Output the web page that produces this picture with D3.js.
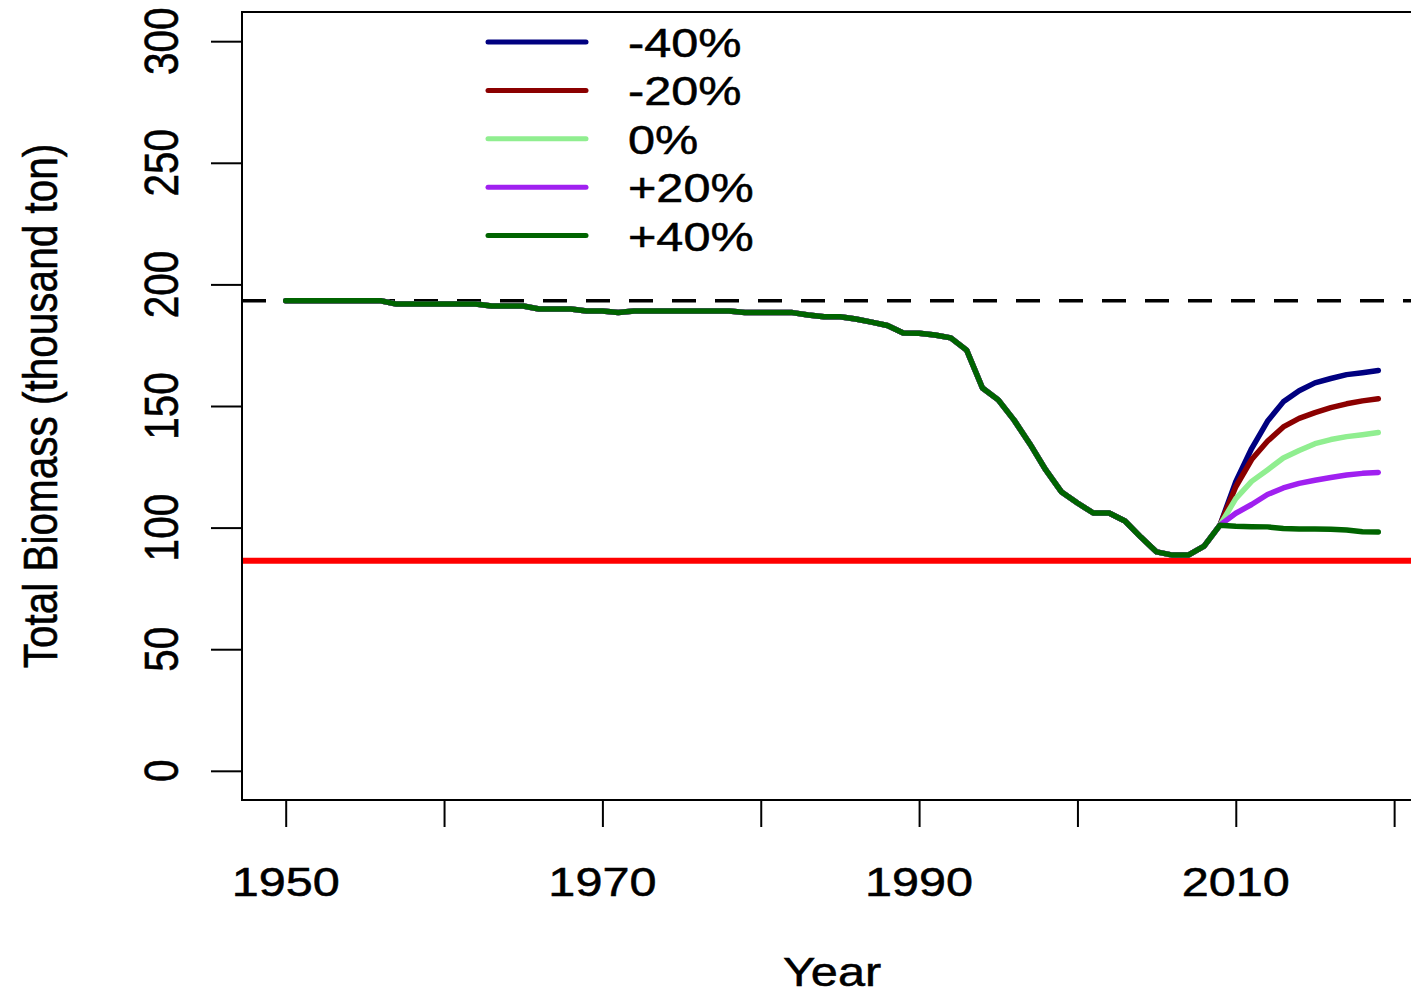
<!DOCTYPE html>
<html>
<head>
<meta charset="utf-8">
<script src="https://cdn.jsdelivr.net/npm/d3@7"></script>
<style>
  html, body { margin: 0; padding: 0; background: #fff; }
  svg { display: block; }
  text { font-family: "Liberation Sans", Arial, sans-serif; fill: #000; stroke: #000; stroke-width: 0.5px; }
</style>
</head>
<body>
<svg id="chart" width="1411" height="996"></svg>
<script>
// Historical total biomass (thousand ton), 1950-2009
const histYears = [1950,1951,1952,1953,1954,1955,1956,1957,1958,1959,
  1960,1961,1962,1963,1964,1965,1966,1967,1968,1969,
  1970,1971,1972,1973,1974,1975,1976,1977,1978,1979,
  1980,1981,1982,1983,1984,1985,1986,1987,1988,1989,
  1990,1991,1992,1993,1994,1995,1996,1997,1998,1999,
  2000,2001,2002,2003,2004,2005,2006,2007,2008,2009];
const histBiomass = [193.3,193.3,193.3,193.3,193.3,193.3,193.3,191.9,191.9,191.9,
  191.9,191.9,191.9,191.1,191.1,191.1,189.9,189.9,189.9,189.1,
  189.1,188.4,189.1,189.1,189.1,189.1,189.1,189.1,189.1,188.4,
  188.4,188.4,188.4,187.4,186.7,186.7,185.8,184.5,183.1,180.0,
  179.9,179.2,178.0,173.0,157.4,152.5,144.2,134.4,123.7,114.6,
  110.1,106.0,106.0,102.7,96.1,90.0,88.7,88.7,92.4,101.0];

// Projection years and scenario trajectories (catch change relative to current)
const projYears = [2009,2010,2011,2012,2013,2014,2015,2016,2017,2018,2019];
const scenarioLabels = ["-40%", "-20%", "0%", "+20%", "+40%"];
const scenarioColors = ["#000080", "#8B0000", "#90EE90", "#A020F0", "#006400"];
const projMinus40 = [101.0,118.9,132.5,143.7,151.7,156.3,159.5,161.3,162.9,163.7,164.6];
const projMinus20 = [101.0,116.8,128.0,135.5,141.4,144.9,147.3,149.3,150.9,152.1,153.0];
const projZero    = [101.0,111.9,119.0,123.7,128.6,131.7,134.5,136.2,137.4,138.2,139.1];
const projPlus20  = [101.0,105.9,109.5,113.6,116.3,118.2,119.5,120.6,121.6,122.3,122.7];
const projPlus40  = [101.0,100.6,100.4,100.3,99.6,99.4,99.4,99.3,99.0,98.3,98.2];
const projections = [projMinus40, projMinus20, projZero, projPlus20, projPlus40];

// Reference points
const unfishedBiomass = 193.3;
const limitBiomass = 86.4;

// Axis ticks
const yTicks = [0, 50, 100, 150, 200, 250, 300];
const xTicks = [1950, 1960, 1970, 1980, 1990, 2000, 2010, 2020];
const xTickLabels = [1950, 1970, 1990, 2010];

const svg = d3.select("#chart");
const plot = { left: 242, right: 1422, top: 12, bottom: 800 };
const fontSize = 40.5;
const stretch = 1.2;

// 4% padding on both sides of the data range
const xData = [1950, 2019];
const xPad = (xData[1] - xData[0]) * 0.04;
const x = d3.scaleLinear().domain([xData[0] - xPad, xData[1] + xPad]).range([plot.left, plot.right]);
const yPad = 300 * 0.04;
const y = d3.scaleLinear().domain([0 - yPad, 300 + yPad]).range([plot.bottom, plot.top]);

const line = d3.line().x(d => x(d[0])).y(d => y(d[1]));

// Reference lines
svg.append("line")
  .attr("x1", plot.left).attr("x2", plot.right)
  .attr("y1", y(unfishedBiomass)).attr("y2", y(unfishedBiomass))
  .attr("stroke", "#000").attr("stroke-width", 3.5)
  .attr("stroke-dasharray", "24,19");

svg.append("line")
  .attr("x1", plot.left).attr("x2", plot.right)
  .attr("y1", y(limitBiomass)).attr("y2", y(limitBiomass))
  .attr("stroke", "#FF0000").attr("stroke-width", 6);

// Scenario lines: historical series followed by each projection
const histPoints = histYears.map((yr, i) => [yr, histBiomass[i]]);
projections.forEach((proj, k) => {
  const pts = histPoints.concat(projYears.slice(1).map((yr, i) => [yr, proj[i + 1]]));
  svg.append("path")
    .attr("d", line(pts))
    .attr("fill", "none")
    .attr("stroke", scenarioColors[k])
    .attr("stroke-width", 5.5)
    .attr("stroke-linecap", "round")
    .attr("stroke-linejoin", "round");
});

// Plot frame
svg.append("rect")
  .attr("x", plot.left).attr("y", plot.top)
  .attr("width", plot.right - plot.left).attr("height", plot.bottom - plot.top)
  .attr("fill", "none").attr("stroke", "#000").attr("stroke-width", 2);

// Y axis
const yAxis = d3.axisLeft(y).tickValues(yTicks).tickSize(31).tickFormat("");
const gy = svg.append("g").attr("transform", `translate(${plot.left},0)`).call(yAxis);
gy.select(".domain").remove();
gy.selectAll(".tick line").attr("stroke", "#000").attr("stroke-width", 2);
yTicks.forEach(v => {
  svg.append("text")
    .attr("transform", `translate(178,${y(v)}) scale(${stretch},1) rotate(-90)`)
    .attr("text-anchor", "middle")
    .attr("font-size", fontSize)
    .text(v);
});

// X axis
const xAxis = d3.axisBottom(x).tickValues(xTicks).tickSize(27).tickFormat("");
const gx = svg.append("g").attr("transform", `translate(0,${plot.bottom})`).call(xAxis);
gx.select(".domain").remove();
gx.selectAll(".tick line").attr("stroke", "#000").attr("stroke-width", 2);
xTickLabels.forEach(v => {
  svg.append("text")
    .attr("transform", `translate(${x(v)},896) scale(${stretch},1)`)
    .attr("text-anchor", "middle")
    .attr("font-size", fontSize)
    .text(v);
});

// Axis titles
svg.append("text")
  .attr("transform", `translate(${(plot.left + plot.right) / 2},986) scale(${stretch},1)`)
  .attr("text-anchor", "middle")
  .attr("font-size", fontSize)
  .text("Year");

svg.append("text")
  .attr("transform", `translate(57,${(plot.top + plot.bottom) / 2}) scale(${stretch},1) rotate(-90)`)
  .attr("text-anchor", "middle")
  .attr("font-size", fontSize)
  .text("Total Biomass (thousand ton)");

// Legend
const legend = svg.append("g").attr("transform", "translate(488,42)");
scenarioLabels.forEach((lab, i) => {
  const row = legend.append("g").attr("transform", `translate(0,${i * 48.4})`);
  row.append("line")
    .attr("x1", 0).attr("x2", 98).attr("y1", 0).attr("y2", 0)
    .attr("stroke", scenarioColors[i]).attr("stroke-width", 5)
    .attr("stroke-linecap", "round");
  row.append("text")
    .attr("transform", `translate(140,15) scale(${stretch},1)`)
    .attr("font-size", fontSize)
    .text(lab);
});
</script>
</body>
</html>
